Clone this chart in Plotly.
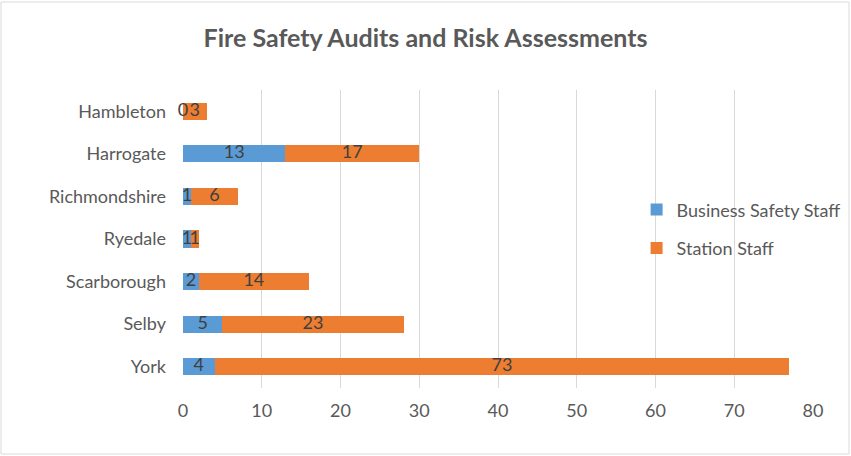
import plotly.graph_objects as go

# data
districts = ["Hambleton", "Harrogate", "Richmondshire", "Ryedale", "Scarborough", "Selby", "York"]
business_safety = [0, 13, 1, 1, 2, 5, 4]
station_staff = [3, 17, 6, 1, 14, 23, 73]
x_ticks = [0, 10, 20, 30, 40, 50, 60, 70, 80]

FONT = "Lato"
GREY = "#595959"
LABEL = "#404040"

fig = go.Figure()

fig.add_trace(go.Bar(
    y=districts, x=business_safety, orientation="h",
    name="Business Safety Staff", legendgroup="a",
    marker=dict(color="#5b9bd5", line=dict(width=0)),
))
fig.add_trace(go.Bar(
    y=districts, x=station_staff, orientation="h",
    name="Station Staff", legendgroup="b",
    marker=dict(color="#ed7d31", line=dict(width=0)),
))

# data labels centred in each segment (zero values too, like Excel)
mid_business = [b / 2 for b in business_safety]
mid_station = [b + s / 2 for b, s in zip(business_safety, station_staff)]
fig.add_trace(go.Scatter(
    y=districts + districts, x=mid_business + mid_station, mode="text",
    text=[str(v) for v in business_safety + station_staff],
    textposition="middle center",
    textfont=dict(color=LABEL, size=18, family=FONT),
    showlegend=False, hoverinfo="skip", cliponaxis=False,
))

fig.update_layout(
    width=851, height=456,
    barmode="stack", bargap=0.6,
    paper_bgcolor="white", plot_bgcolor="white",
    font=dict(family=FONT, color=GREY, size=18),
    title=dict(text="<b>Fire Safety Audits and Risk Assessments</b>",
               x=0.5, xanchor="center", y=0.917, yanchor="middle",
               font=dict(size=25, color=GREY, family=FONT)),
    margin=dict(l=183, r=38, t=90, b=68, autoexpand=False),
    legend=dict(x=0.72, y=0.534, xanchor="left", yanchor="middle",
                bgcolor="rgba(0,0,0,0)", font=dict(size=18, color=GREY),
                traceorder="grouped", tracegroupgap=12, itemwidth=30),
    showlegend=True,
)

fig.update_xaxes(range=[0, 80], tickvals=x_ticks, showgrid=True, gridcolor="#d9d9d9",
                 gridwidth=1, zeroline=False, showline=False, ticks="",
                 ticklabelstandoff=10, automargin=False,
                 tickfont=dict(size=18, color=GREY))
fig.update_yaxes(autorange="reversed", showgrid=False, zeroline=False, showline=False,
                 ticks="", ticklabelstandoff=16, automargin=False,
                 tickfont=dict(size=18, color=GREY))

# outer chart border
fig.add_shape(type="rect", xref="paper", yref="paper",
              x0=-182 / 630, x1=(630 + 36) / 630, y0=-66 / 298, y1=(298 + 88) / 298,
              line=dict(color="#d9d9d9", width=1), fillcolor="rgba(0,0,0,0)")

# drop the default page margin so the figure sits at the window's corner
fig.write_html("out.html", config={"displayModeBar": False},
               post_script="document.body.style.margin='0';")
